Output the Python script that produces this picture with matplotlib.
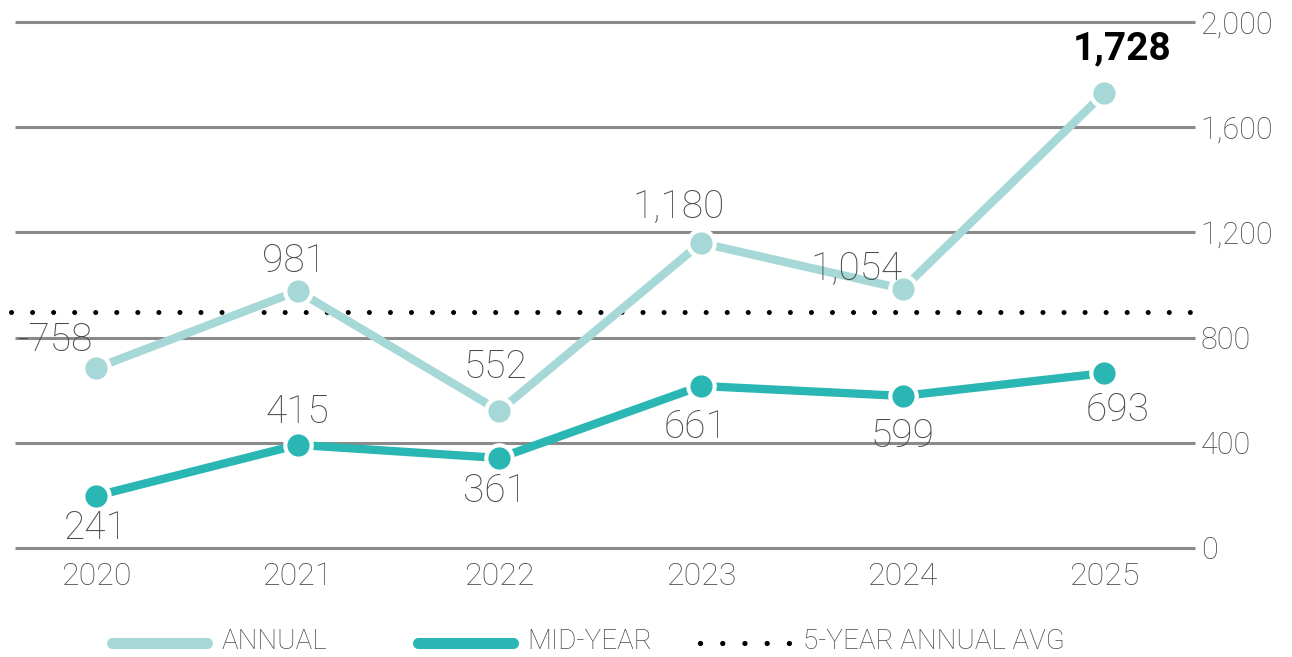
import matplotlib
matplotlib.use("Agg")
import matplotlib.pyplot as plt
from matplotlib.lines import Line2D
from matplotlib.ticker import FuncFormatter

# Données
years = ["2020", "2021", "2022", "2023", "2024", "2025"]
annual = [684, 977, 521, 1160, 985, 1730]
annual_labels = ["-758", "981", "552", "1,180", "1,054", "1,728"]
mid_year = [198, 392, 342, 616, 578, 665]
mid_labels = ["241", "415", "361", "661", "599", "693"]
avg_5y = 897
y_ticks = [0, 400, 800, 1200, 1600, 2000]
legend_names = ["ANNUAL", "MID-YEAR", "5-YEAR ANNUAL AVG"]

# décalages des étiquettes (points)
annual_offsets = [(-29, 20), (-3, 21.5), (-3, 31.5), (-16.5, 26), (-33, 15), (13, 32)]
mid_offsets = [(0, -23), (0, 23.5), (-3, -24), (-4.3, -29.5), (0, -29), (9.4, -27)]

c_annual = "#a5d8d6"
c_mid = "#2ab6b3"
c_grid = "#8a8a8a"
c_text = "#4a4a4a"

plt.rcParams["font.family"] = ["Roboto", "DejaVu Sans"]

fig = plt.figure(figsize=(12.92, 6.57), dpi=100)
ax = fig.add_axes([0.0, 0.166, 0.925, 0.8005])

x = list(range(len(years)))
ax.set_xlim(-0.476, 5.45)
ax.set_ylim(0, 2000)

ax.hlines(y_ticks, -0.40, 5.45, color=c_grid, lw=2.2, zorder=1, clip_on=False)
ax.hlines(avg_5y, -0.42, 5.43, color="black", lw=3.6,
          linestyle=(0, (0.01, 4.2)), capstyle="round", zorder=1.5)

ax.plot(x, annual, color=c_annual, lw=6, marker="o", ms=19,
        mec="white", mew=3, zorder=3, solid_capstyle="butt")
ax.plot(x, mid_year, color=c_mid, lw=6, marker="o", ms=19,
        mec="white", mew=3, zorder=3, solid_capstyle="butt")

for i, lab in enumerate(annual_labels):
    bold = lab == "1,728"
    ax.annotate(lab, (x[i], annual[i]), xytext=annual_offsets[i],
                textcoords="offset points", ha="center", va="center",
                fontsize=28,
                fontweight="bold" if bold else "light",
                color="black" if bold else c_text, zorder=4)

for i, lab in enumerate(mid_labels):
    ax.annotate(lab, (x[i], mid_year[i]), xytext=mid_offsets[i],
                textcoords="offset points", ha="center", va="center",
                fontsize=28, fontweight="light", color=c_text, zorder=4)

ax.yaxis.tick_right()
ax.set_yticks(y_ticks)
ax.yaxis.set_major_formatter(FuncFormatter(lambda v, p: f"{int(v):,}"))
ax.set_xticks(x)
ax.set_xticklabels(years)
ax.tick_params(axis="both", length=0, labelcolor=c_text)
ax.tick_params(axis="y", pad=4, labelsize=22)
ax.tick_params(axis="x", pad=10, labelsize=23)
for lbl in ax.get_yticklabels() + ax.get_xticklabels():
    lbl.set_fontweight("light")

for s in ax.spines.values():
    s.set_visible(False)

# légende dessinée à la main (espacements irréguliers dans l'original)
leg_y = 0.021
leg_items = [
    (0.0867, 0.1602, 0.1718, dict(color=c_annual, lw=8, solid_capstyle="round")),
    (0.3235, 0.3971, 0.4079, dict(color=c_mid, lw=8, solid_capstyle="round")),
    (0.5418, 0.6115, 0.6215, dict(color="black", lw=3.8, linestyle=(0, (0.01, 4.2)),
                                  dash_capstyle="round")),
]
for (x0, x1, xt, style), name in zip(leg_items, legend_names):
    fig.add_artist(Line2D([x0, x1], [leg_y, leg_y], transform=fig.transFigure, **style))
    fig.text(xt, leg_y + 0.003, name, ha="left", va="center", fontsize=20,
             fontweight="light", color=c_text)

fig.savefig("out.png", dpi=100)
